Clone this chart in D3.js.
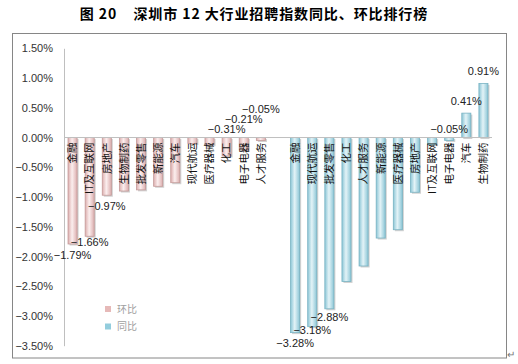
<!DOCTYPE html>
<html><head><meta charset="utf-8">
<script src="https://cdn.jsdelivr.net/npm/d3@7/dist/d3.min.js"></script>
<style>
html,body{margin:0;padding:0;background:#fff;}
svg{display:block;}
</style></head>
<body>
<svg id="c" width="518" height="364"></svg>
<script>
const title = "图 20    深圳市 12 大行业招聘指数同比、环比排行榜";
const seriesNames = ["环比", "同比"];
const hbCategories = ["金融","IT及互联网","房地产","生物制药","批发零售","新能源","汽车","现代航运","医疗器械","化工","电子电器","人才服务"];
const hbValues = [-1.79,-1.66,-0.97,-0.90,-0.88,-0.82,-0.76,-0.10,-0.12,-0.31,-0.21,-0.05];
const tbCategories = ["金融","现代航运","批发零售","化工","人才服务","新能源","医疗器械","房地产","IT及互联网","电子电器","汽车","生物制药"];
const tbValues = [-3.28,-3.18,-2.88,-2.42,-2.16,-1.69,-1.55,-0.92,-0.12,-0.05,0.41,0.91];
const yTicks = [1.5,1.0,0.5,0,-0.5,-1.0,-1.5,-2.0,-2.5,-3.0,-3.5];
const labeledRanks = [0,1,2,9,10,11];

const svg = d3.select("#c");
const numFont = "'Liberation Sans', Arial, sans-serif";
const cjkFont = "'Noto Sans CJK SC', sans-serif";

// title
svg.append("text").attr("x", 254).attr("y", 19).attr("text-anchor","middle")
  .style("white-space","pre").attr("letter-spacing", 0.9)
  .attr("font-family", cjkFont).attr("font-weight","bold").attr("font-size",14)
  .attr("fill","#000").text(title);

// frame
svg.append("rect").attr("x",12.5).attr("y",33.5).attr("width",494).attr("height",324.5)
  .attr("fill","none").attr("stroke","#868686").attr("stroke-width",1);
svg.append("text").attr("x",507).attr("y",358).attr("font-size",10).attr("fill","#777")
  .attr("font-family",numFont).text("↵");

// data rows
const rows = [];
hbCategories.forEach((c,i)=>rows.push({key:"h"+i, cat:c, v:hbValues[i], s:0, rank:i}));
rows.push({key:"gap", cat:"", v:null});
tbCategories.forEach((c,i)=>rows.push({key:"t"+i, cat:c, v:tbValues[i], s:1, rank:i}));

const x = d3.scaleBand().domain(rows.map(r=>r.key)).range([64,492])
  .paddingInner(0.47).paddingOuter(0.235);
const y = d3.scaleLinear().domain([-3.5,1.5]).range([345.7,48.3]);

// gradients
const defs = svg.append("defs");
const grads = [
  {id:"gp", edge:"#dcaeae", mid:"#fbeeee"},
  {id:"gb", edge:"#8cc6d6", mid:"#e3f3f7"}
];
grads.forEach(g=>{
  const lg = defs.append("linearGradient").attr("id",g.id).attr("x1","0").attr("x2","1").attr("y1","0").attr("y2","0");
  lg.append("stop").attr("offset","0").attr("stop-color",g.edge);
  lg.append("stop").attr("offset","0.45").attr("stop-color",g.mid);
  lg.append("stop").attr("offset","1").attr("stop-color",g.edge);
});
const strokeCol = ["#c49a99","#79b3c3"];

// y axis
const yAxis = d3.axisLeft(y).tickValues(yTicks).tickSize(0).tickPadding(11)
  .tickFormat(d=>d3.format(".2f")(d)+"%");
const ga = svg.append("g").attr("transform","translate(64,0)").call(yAxis);
ga.select(".domain").attr("stroke","#bfbfbf");
ga.selectAll("text").attr("font-family",numFont).attr("font-size",11).attr("fill","#333");

// bars
const data = rows.filter(r=>r.v!==null);
const bw = x.bandwidth();
svg.append("g").selectAll("rect.sh").data(data).join("rect")
  .attr("x",d=>x(d.key)+1.5).attr("width",bw)
  .attr("y",d=>Math.min(y(d.v),y(0))+1.5).attr("height",d=>Math.abs(y(d.v)-y(0)))
  .attr("fill","#000").attr("opacity",0.18);
svg.append("g").selectAll("rect.b").data(data).join("rect")
  .attr("x",d=>x(d.key)).attr("width",bw)
  .attr("y",d=>Math.min(y(d.v),y(0))).attr("height",d=>Math.abs(y(d.v)-y(0)))
  .attr("fill",d=>d.s===0?"url(#gp)":"url(#gb)")
  .attr("stroke",d=>strokeCol[d.s]).attr("stroke-width",0.8);

// zero line
svg.append("line").attr("x1",64).attr("x2",492).attr("y1",y(0)).attr("y2",y(0))
  .attr("stroke","#bfbfbf").attr("stroke-width",1);

// category labels
svg.append("g").selectAll("text").data(data).join("text")
  .attr("transform",d=>`translate(${x(d.key)+bw/2+3.8},${y(0)+5}) rotate(-90)`)
  .attr("text-anchor","end").attr("font-family",cjkFont).attr("font-size",10.5)
  .attr("fill","#111").text(d=>d.cat);

// data labels (top 3 and bottom 3 of each ranking)
const labeled = data.filter(d=>labeledRanks.includes(d.rank));
const stack = [0,0];
let prev = null;
labeled.forEach(d=>{
  let ly;
  if (d.v >= 0) ly = y(d.v) - 12;
  else if (d.v > -0.5) { ly = y(0) - 8 - 10*stack[d.s]; stack[d.s]++; }
  else {
    ly = y(d.v) + 11;
    if (prev && prev.s===d.s && prev.v < -0.5 && prev.rank===d.rank-1) {
      ly = Math.max(y(d.v) + 3, Math.min(ly, prev.ly - 13));
    }
  }
  d.ly = ly;
  prev = d;
});
svg.append("g").selectAll("text").data(labeled).join("text")
  .attr("x",d=>x(d.key)+bw/2).attr("y",d=>d.ly).attr("dy","0.35em")
  .attr("text-anchor","middle").attr("font-family",numFont).attr("font-size",11)
  .attr("fill","#222").text(d=>d3.format(".2f")(d.v)+"%");

// legend
const lg = svg.append("g");
seriesNames.forEach((n,i)=>{
  lg.append("rect").attr("x",105).attr("y",306+i*17.5).attr("width",6).attr("height",6)
    .attr("fill",i===0?"#e6b9b8":"#93cddd");
  lg.append("text").attr("x",117).attr("y",309+i*17.5).attr("dy","0.35em")
    .attr("font-family",cjkFont).attr("font-size",10).attr("fill","#a0a0a0").text(n);
});
</script>
</body></html>
